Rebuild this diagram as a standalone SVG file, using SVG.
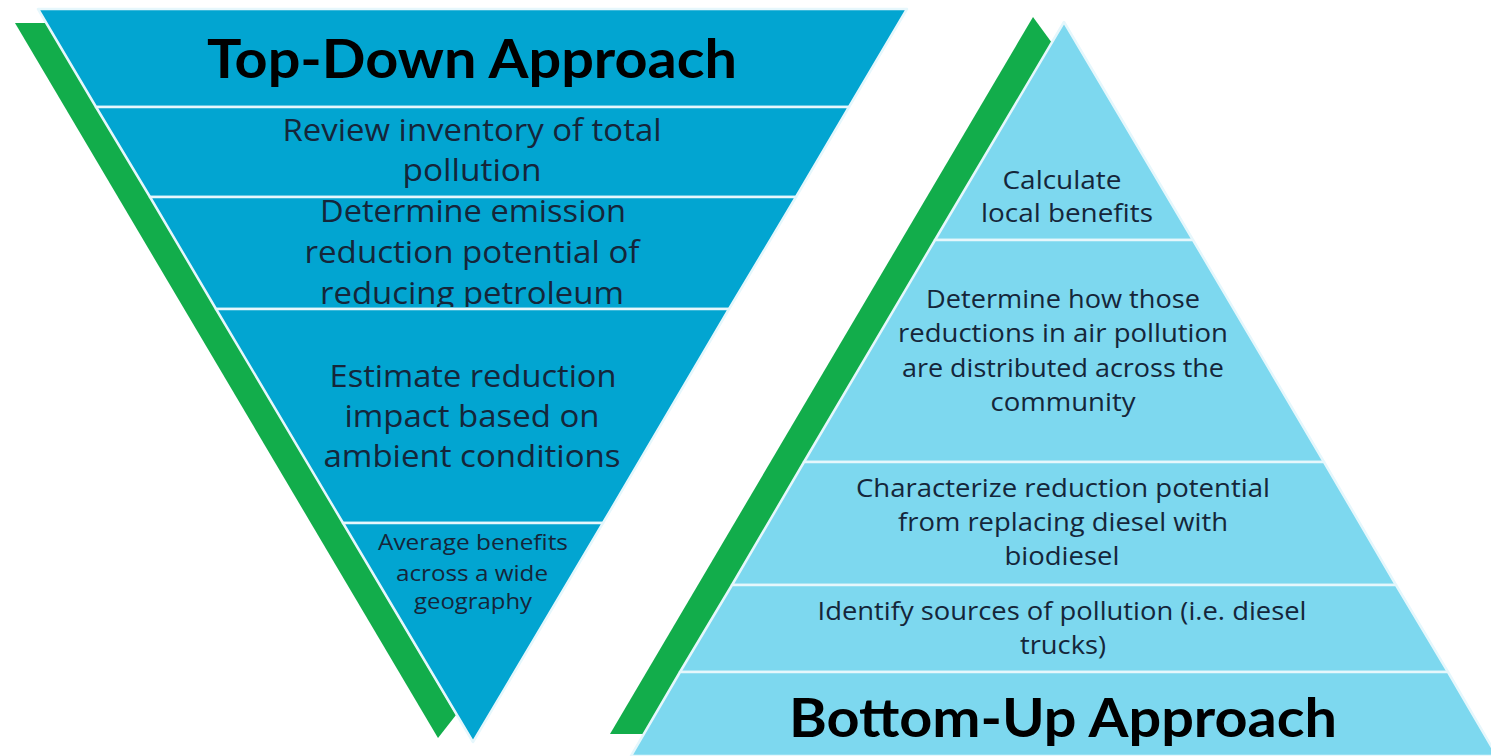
<svg xmlns="http://www.w3.org/2000/svg" width="1491" height="756" viewBox="0 0 1491 756">
  <style>
    .green { fill: #12ad4b; }
    .dark { fill: #02a5d1; stroke: #e6f7fc; stroke-width: 2.5; stroke-linejoin: round; }
    .light { fill: #7dd8ef; stroke: #e6f7fc; stroke-width: 2.5; stroke-linejoin: round; }
    .title { font-family: Lato, "Liberation Sans", sans-serif; font-weight: 700; fill: #000; text-anchor: middle; }
    .body { font-family: "Open Sans", "Liberation Sans", sans-serif; font-weight: 400; fill: #15263a; text-anchor: middle; }
    .l { font-size: 31px; }
    .s { font-size: 22px; }
    .r { font-size: 25.5px; }
  </style>
  <defs>
    <clipPath id="band3clip">
      <rect x="0" y="197" width="1491" height="110"/>
    </clipPath>
  </defs>
  <rect width="1491" height="756" fill="#ffffff"/>

  <!-- green accent strips behind each triangle -->
  <g id="accent-left">
    <polygon class="green" points="15,23 47,23 456,715 438,738"/>
  </g>
  <g id="accent-right">
    <polygon class="green" points="1033,17 1052,43 644,734 610,734"/>
  </g>

  <!-- inverted triangle: top-down steps -->
  <g id="td-title">
    <polygon class="dark" points="38,9 907,9 849,107 96,107"/>
    <text class="title" x="472" y="78" font-size="54" textLength="530" lengthAdjust="spacingAndGlyphs">Top-Down Approach</text>
  </g>
  <g id="td-review">
    <polygon class="dark" points="96,107 849,107 796,197 150,197"/>
    <text class="body l" x="472" y="141" textLength="379" lengthAdjust="spacingAndGlyphs">Review inventory of total</text>
    <text class="body l" x="472" y="181" textLength="139" lengthAdjust="spacingAndGlyphs">pollution</text>
  </g>
  <g id="td-determine">
    <polygon class="dark" points="150,197 796,197 729,309 216,309"/>
    <g clip-path="url(#band3clip)">
      <text class="body l" x="473" y="222" textLength="306" lengthAdjust="spacingAndGlyphs">Determine emission</text>
      <text class="body l" x="472" y="263" textLength="335" lengthAdjust="spacingAndGlyphs">reduction potential of</text>
      <text class="body l" x="472" y="304" textLength="304" lengthAdjust="spacingAndGlyphs">reducing petroleum</text>
    </g>
  </g>
  <g id="td-estimate">
    <polygon class="dark" points="216,309 729,309 603,523 343,523"/>
    <text class="body l" x="473" y="387" textLength="287" lengthAdjust="spacingAndGlyphs">Estimate reduction</text>
    <text class="body l" x="472" y="427" textLength="255" lengthAdjust="spacingAndGlyphs">impact based on</text>
    <text class="body l" x="472" y="467" textLength="297" lengthAdjust="spacingAndGlyphs">ambient conditions</text>
  </g>
  <g id="td-average">
    <polygon class="dark" points="343,523 603,523 473,742"/>
    <text class="body s" x="473" y="550" textLength="190" lengthAdjust="spacingAndGlyphs">Average benefits</text>
    <text class="body s" x="472" y="581" textLength="152" lengthAdjust="spacingAndGlyphs">across a wide</text>
    <text class="body s" x="473" y="609" textLength="118" lengthAdjust="spacingAndGlyphs">geography</text>
  </g>

  <!-- upright pyramid: bottom-up steps -->
  <g id="bu-calculate">
    <polygon class="light" points="1064,22 1193,240 935,240"/>
    <text class="body r" x="1062" y="189" textLength="119" lengthAdjust="spacingAndGlyphs">Calculate</text>
    <text class="body r" x="1067" y="222" textLength="172" lengthAdjust="spacingAndGlyphs">local benefits</text>
  </g>
  <g id="bu-distribute">
    <polygon class="light" points="935,240 1193,240 1324,462 804,462"/>
    <text class="body r" x="1063" y="308" textLength="274" lengthAdjust="spacingAndGlyphs">Determine how those</text>
    <text class="body r" x="1063" y="342" textLength="330" lengthAdjust="spacingAndGlyphs">reductions in air pollution</text>
    <text class="body r" x="1063" y="377" textLength="322" lengthAdjust="spacingAndGlyphs">are distributed across the</text>
    <text class="body r" x="1063" y="411" textLength="145" lengthAdjust="spacingAndGlyphs">community</text>
  </g>
  <g id="bu-characterize">
    <polygon class="light" points="804,462 1324,462 1396,585 732,585"/>
    <text class="body r" x="1063" y="497" textLength="414" lengthAdjust="spacingAndGlyphs">Characterize reduction potential</text>
    <text class="body r" x="1063" y="531" textLength="330" lengthAdjust="spacingAndGlyphs">from replacing diesel with</text>
    <text class="body r" x="1062" y="565" textLength="115" lengthAdjust="spacingAndGlyphs">biodiesel</text>
  </g>
  <g id="bu-identify">
    <polygon class="light" points="732,585 1396,585 1448,672 680,672"/>
    <text class="body r" x="1062" y="620" textLength="489" lengthAdjust="spacingAndGlyphs">Identify sources of pollution (i.e. diesel</text>
    <text class="body r" x="1063" y="654" textLength="86" lengthAdjust="spacingAndGlyphs">trucks)</text>
  </g>
  <g id="bu-title">
    <polygon class="light" points="680,672 1448,672 1497,756 631,756"/>
    <text class="title" x="1063" y="737" font-size="54" textLength="548" lengthAdjust="spacingAndGlyphs">Bottom-Up Approach</text>
  </g>

  <!-- no connectors in this figure -->
  <g id="connectors"/>
</svg>
